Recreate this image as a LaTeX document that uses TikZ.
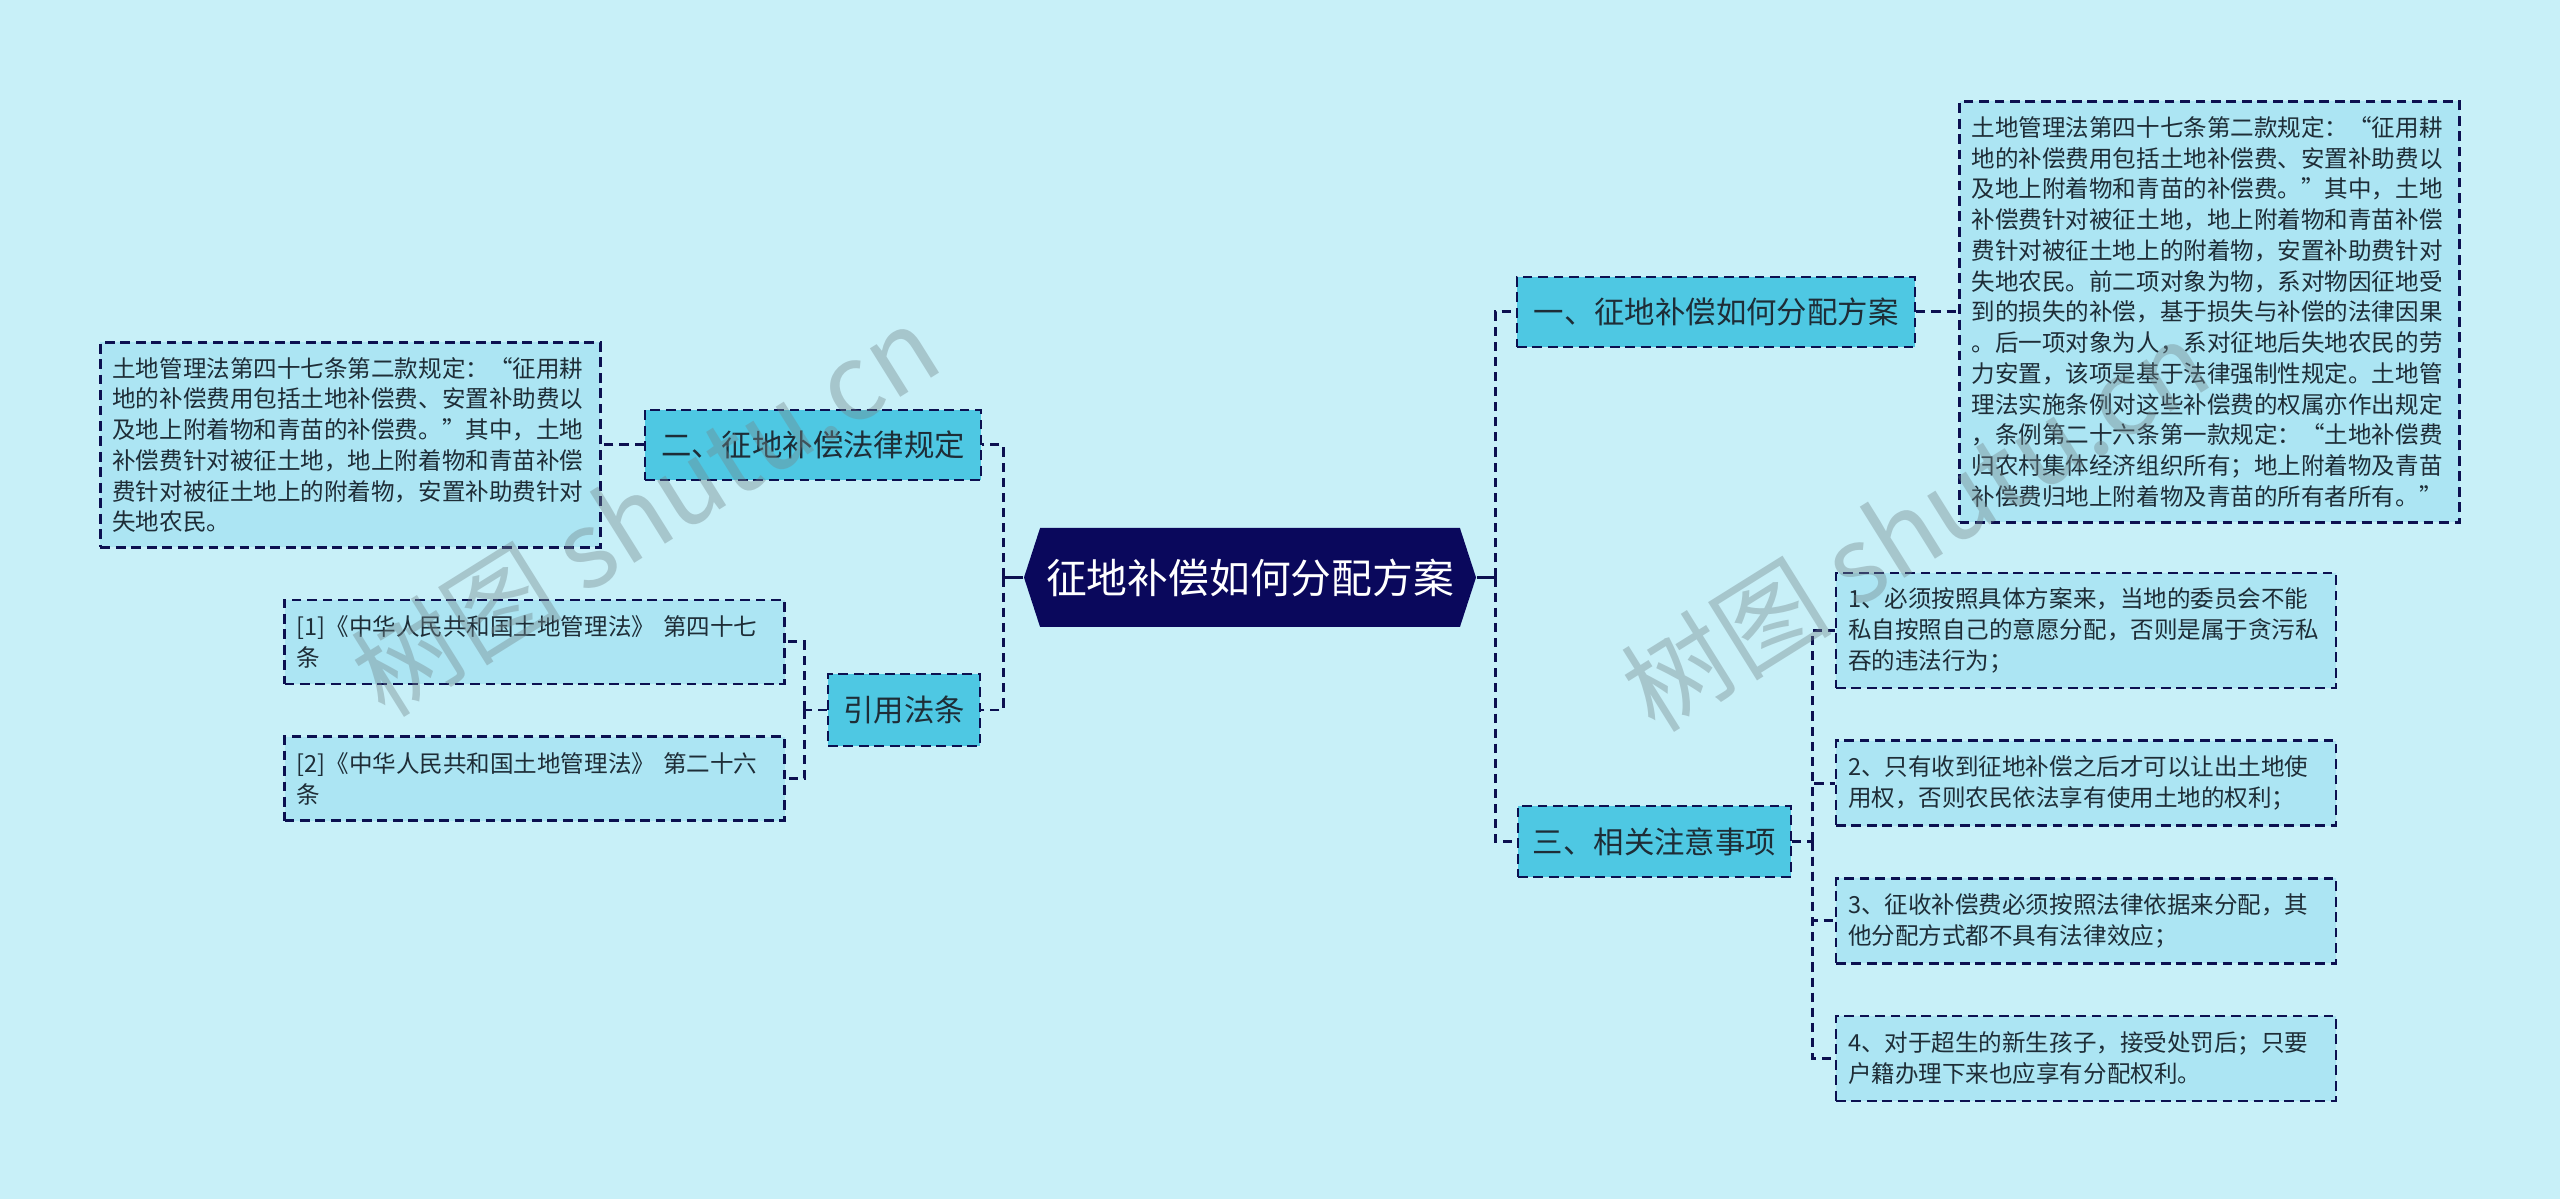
\documentclass[tikz,border=0pt]{standalone}
\usepackage{fontspec}
\setmainfont{Noto Sans CJK SC}
\usepackage{tikz}
\usetikzlibrary{shapes.symbols, positioning, calc}
\usepackage{xcolor}
\definecolor{bgcol}{RGB}{200, 240, 248}
\definecolor{rootcol}{RGB}{10, 8, 92}
\definecolor{branchcol}{RGB}{78, 200, 227}
\definecolor{notecol}{RGB}{172, 229, 243}
\definecolor{linecol}{RGB}{12, 16, 80}
\definecolor{textcol}{RGB}{30, 45, 55}
\definecolor{wmcol}{RGB}{115, 135, 140}
\tikzstyle{hub}    = [signal, signal to=east and west, signal pointer angle=144,
                      minimum width=4.52cm, minimum height=0.99cm, inner sep=0pt,
                      fill=rootcol, text=white, font=\fontsize{11.6}{14}\selectfont]
\tikzstyle{branch} = [rectangle, minimum height=0.70cm, inner sep=0pt, text centered,
                      draw=linecol, line width=0.75pt, dash pattern=on 2.8pt off 1.6pt,
                      fill=branchcol, text=textcol, font=\fontsize{8.65}{10}\selectfont]
\tikzstyle{note}   = [rectangle, text width=4.76cm, inner xsep=0.12cm, inner ysep=0pt, align=left,
                      draw=linecol, line width=0.75pt, dash pattern=on 2.8pt off 1.6pt,
                      fill=notecol, text=textcol, font=\fontsize{6.7}{8.75}\selectfont]
\tikzstyle{link}   = [draw=linecol, line width=0.85pt, dash pattern=on 2.6pt off 1.7pt]
\tikzstyle{stem}   = [draw=linecol, line width=0.85pt]
\tikzstyle{wmark}  = [text=wmcol, opacity=0.4, font=\fontsize{30}{33}\selectfont]

\begin{document}
\begin{tikzpicture}
  \fill [bgcol] (0,0) rectangle (25.6,-11.99);

  \node (root) [hub] at (12.50,-5.775) {征地补偿如何分配方案};

  % Right branches
  \node (plan) [branch, minimum width=3.98cm] at (17.16,-3.12) {一、征地补偿如何分配方案};
  \node (tips) [branch, minimum width=2.73cm, minimum height=0.71cm] at (16.545,-8.415) {三、相关注意事项};

  % Left branches
  \node (law)  [branch, minimum width=3.36cm] at (8.13,-4.45) {二、征地补偿法律规定};
  \node (cite) [branch, minimum width=1.52cm, minimum height=0.72cm] at (9.04,-7.10) {引用法条};

  % Details
  \node (plantxt) [note, minimum height=4.21cm, right=0.42cm of plan]
    {土地管理法第四十七条第二款规定：“征用耕\\
     地的补偿费用包括土地补偿费、安置补助费以\\
     及地上附着物和青苗的补偿费。”其中，土地\\
     补偿费针对被征土地，地上附着物和青苗补偿\\
     费针对被征土地上的附着物，安置补助费针对\\
     失地农民。前二项对象为物，系对物因征地受\\
     到的损失的补偿，基于损失与补偿的法律因果\\
     。后一项对象为人，系对征地后失地农民的劳\\
     力安置，该项是基于法律强制性规定。土地管\\
     理法实施条例对这些补偿费的权属亦作出规定\\
     ，条例第二十六条第一款规定：“土地补偿费\\
     归农村集体经济组织所有；地上附着物及青苗\\
     补偿费归地上附着物及青苗的所有者所有。”};
  \node (lawtxt) [note, minimum height=2.05cm, left=0.42cm of law]
    {土地管理法第四十七条第二款规定：“征用耕\\
     地的补偿费用包括土地补偿费、安置补助费以\\
     及地上附着物和青苗的补偿费。”其中，土地\\
     补偿费针对被征土地，地上附着物和青苗补偿\\
     费针对被征土地上的附着物，安置补助费针对\\
     失地农民。};

  \node (ref1) [note, minimum height=0.84cm] at (5.345,-6.42)
    {[1]《中华人民共和国土地管理法》 第四十七\\条};
  \node (ref2) [note, minimum height=0.84cm, below=0.50cm of ref1]
    {[2]《中华人民共和国土地管理法》 第二十六\\条};

  \node (n1) [note, minimum height=1.15cm] at (20.86,-6.305)
    {1、必须按照具体方案来，当地的委员会不能\\私自按照自己的意愿分配，否则是属于贪污私\\吞的违法行为；};
  \node (n2) [note, minimum height=0.85cm, below=0.50cm of n1]
    {2、只有收到征地补偿之后才可以让出土地使\\用权，否则农民依法享有使用土地的权利；};
  \node (n3) [note, minimum height=0.85cm, below=0.50cm of n2]
    {3、征收补偿费必须按照法律依据来分配，其\\他分配方式都不具有法律效应；};
  \node (n4) [note, minimum height=0.85cm, below=0.50cm of n3]
    {4、对于超生的新生孩子，接受处罚后；只要\\户籍办理下来也应享有分配权利。};

  % Connectors
  \coordinate (lj) at (10.03,-5.775);
  \coordinate (rj) at (14.95,-5.775);
  \draw [stem] (root.west) -- (lj);
  \draw [stem] (root.east) -- (rj);
  \draw [link] (lj) |- (law.east);
  \draw [link] (lj) |- (cite.east);
  \draw [link] (rj) |- (plan.west);
  \draw [link] (rj) |- (tips.west);
  \draw [link] (plan.east) -- (plantxt.west);
  \draw [link] (law.west)  -- (lawtxt.east);
  \draw [link] (cite.west) -- ++(-0.22,0) coordinate (cj);
  \draw [link] (cj) |- (ref1.east);
  \draw [link] (cj) |- (ref2.east);
  \draw [link] (tips.east) -- ++(0.20,0) coordinate (tj);
  \draw [link] (tj) |- (n1.west);
  \draw [link] (tj) |- (n2.west);
  \draw [link] (tj) |- (n3.west);
  \draw [link] (tj) |- (n4.west);

  % Watermarks
  \node (wm1) [wmark, rotate=32] at (6.45,-5.10) {树图 shutu.cn};
  \node (wm2) [wmark, rotate=32] at (19.15,-5.25) {树图 shutu.cn};
\end{tikzpicture}
\end{document}
